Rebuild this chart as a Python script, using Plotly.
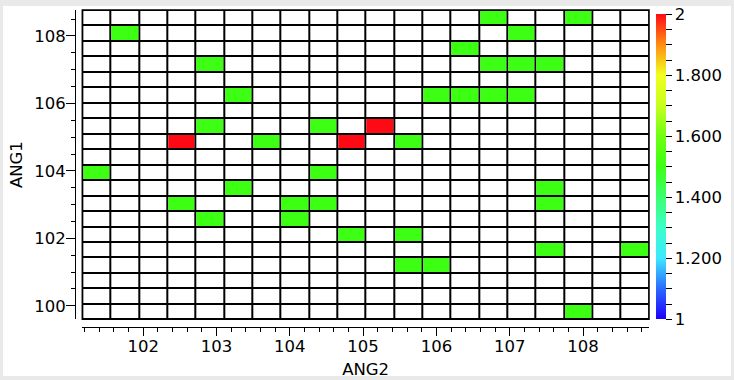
import numpy as np
import plotly.graph_objects as go

# ---- data -------------------------------------------------------------
ang2_min, ang2_max = 101.17, 108.90   # ANG2 binning range
ang1_min, ang1_max = 99.60, 108.77    # ANG1 binning range
n_bins = 20

# occupied cells: ANG2 bin index (0 = left), ANG1 bin index (0 = bottom), value
cell_ang2 = [14, 17, 1, 15, 13, 4, 14, 15, 16, 5, 12, 13, 14, 15, 4, 8, 10,
             3, 6, 9, 11, 0, 8, 5, 16, 3, 7, 8, 16, 4, 7, 9, 11, 16, 19, 11,
             12, 17]
cell_ang1 = [19, 19, 18, 18, 17, 16, 16, 16, 16, 14, 14, 14, 14, 14, 12, 12,
             12, 11, 11, 11, 11, 9, 9, 8, 8, 7, 7, 7, 7, 6, 6, 5, 5, 4, 4, 3,
             3, 0]
cell_value = [1.5, 1.5, 1.5, 1.5, 1.5, 1.5, 1.5, 1.5, 1.5, 1.5, 1.5, 1.5, 1.5,
              1.5, 1.5, 1.5, 2.0, 2.0, 1.5, 2.0, 1.5, 1.5, 1.5, 1.5, 1.5, 1.5,
              1.5, 1.5, 1.5, 1.5, 1.5, 1.5, 1.5, 1.5, 1.5, 1.5, 1.5, 1.5]

cbar_vals = [1.0, 1.2, 1.4, 1.6, 1.8, 2.0]
cbar_text = ["1", "1.200", "1.400", "1.600", "1.800", "2"]

# ---- build grid -------------------------------------------------------
x_edges = np.linspace(ang2_min, ang2_max, n_bins + 1)
y_edges = np.linspace(ang1_min, ang1_max, n_bins + 1)
x_c = (x_edges[:-1] + x_edges[1:]) / 2
y_c = (y_edges[:-1] + y_edges[1:]) / 2

z = np.full((n_bins, n_bins), np.nan)
for cx, cy, v in zip(cell_ang2, cell_ang1, cell_value):
    z[cy, cx] = v
zeros = np.zeros((n_bins, n_bins))

colorscale = [
    [0.00, "#1e00ff"], [0.10, "#2b6cff"], [0.20, "#3ee8ff"],
    [0.30, "#3cffc8"], [0.40, "#3cff70"], [0.50, "#3dff14"],
    [0.60, "#70ff14"], [0.70, "#c8ff1e"], [0.80, "#f0ff1e"],
    [0.90, "#ff8c14"], [1.00, "#ff0a14"],
]

# colorbar ticks (major labelled + unlabeled minor)
minor_vals = [round(1 + 0.05 * i, 2) for i in range(21)]
tick_vals, tick_text = [], []
for v in minor_vals:
    tick_vals.append(v)
    lab = ""
    for mv, mt in zip(cbar_vals, cbar_text):
        if abs(mv - v) < 1e-9:
            lab = mt
    tick_text.append(lab)

FONT = dict(family="DejaVu Sans", size=16.5, color="black")

fig = go.Figure()
fig.add_trace(go.Heatmap(x=x_c, y=y_c, z=zeros, colorscale=[[0, "black"], [1, "black"]],
                         showscale=False, hoverinfo="skip"))
fig.add_trace(go.Heatmap(x=x_c, y=y_c, z=zeros, colorscale=[[0, "white"], [1, "white"]],
                         showscale=False, xgap=2, ygap=2, hoverinfo="skip"))
fig.add_trace(go.Heatmap(
    x=x_c, y=y_c, z=z, colorscale=colorscale, zmin=1, zmax=2,
    xgap=2, ygap=2,
    colorbar=dict(
        x=1.012, xanchor="left", y=0.0243, yanchor="bottom",
        len=0.963, lenmode="fraction", thickness=10, thicknessmode="pixels",
        xpad=0, ypad=0, outlinewidth=0,
        tickmode="array", tickvals=tick_vals, ticktext=tick_text,
        ticks="outside", ticklen=6, tickwidth=1, tickcolor="black",
        tickfont=FONT,
    ),
))

W, H = 734, 380
L, R, T, B = 75, 85, 10, 53
pw, ph = W - L - R, H - T - B

fig.update_layout(
    width=W, height=H,
    margin=dict(l=L, r=R, t=T, b=B, autoexpand=False),
    paper_bgcolor="#e9e9e9", plot_bgcolor="white",
    font=FONT,
    xaxis=dict(
        domain=[7.3 / pw, 1], anchor="free", position=0,
        range=[ang2_min, ang2_max], showgrid=False, zeroline=False,
        showline=True, linecolor="black", linewidth=1,
        ticks="outside", ticklen=8, tickwidth=1, tickcolor="black",
        tick0=0, dtick=1, tickfont=FONT, ticklabelstandoff=-4,
        minor=dict(ticks="outside", ticklen=4, tickwidth=1, tickcolor="black",
                   dtick=0.2, tick0=0, showgrid=False),
        title=dict(text="ANG2", font=FONT, standoff=8),
    ),
    yaxis=dict(
        domain=[7.7 / ph, 1], anchor="free", position=0,
        range=[ang1_min, ang1_max], showgrid=False, zeroline=False,
        showline=True, linecolor="black", linewidth=1,
        ticks="outside", ticklen=9, tickwidth=1, tickcolor="black",
        tick0=0, dtick=2, tickfont=FONT, ticklabelstandoff=-3,
        minor=dict(ticks="outside", ticklen=4, tickwidth=1, tickcolor="black",
                   dtick=0.5, tick0=0, showgrid=False),
        title=dict(text="ANG1", font=FONT, standoff=6),
    ),
    shapes=[
        dict(type="rect", xref="paper", yref="paper", layer="below",
             x0=(3 - L) / pw, x1=(731 - L) / pw,
             y0=(H - B - 376) / ph, y1=(H - B - 6) / ph,
             fillcolor="white", line=dict(width=0)),
        dict(type="rect", xref="x domain", yref="y domain",
             x0=0, x1=1, y0=0, y1=1, line=dict(color="black", width=1.5)),
    ],
)

fig.write_html("out.html",
               config={"displayModeBar": False},
               post_script="document.body.style.margin='0';document.body.style.overflow='hidden';")
